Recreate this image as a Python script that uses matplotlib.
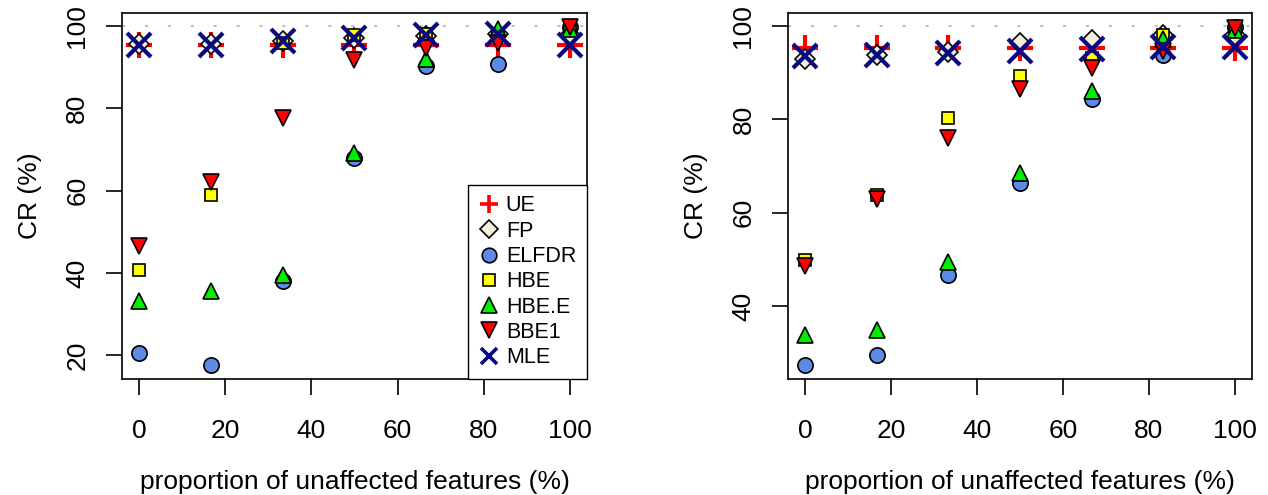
import numpy as np
import matplotlib.pyplot as plt
from matplotlib.lines import Line2D

plt.rcParams['font.family'] = ['Liberation Sans', 'DejaVu Sans']

###### DATA ######

# proportion of unaffected features (%)
x = [0, 16.67, 33.33, 50, 66.67, 83.33, 100]

methods = ["UE", "FP", "ELFDR", "HBE", "HBE.E", "BBE1", "MLE"]

# coverage rate (%), left panel
left_UE = [95.4, 95.4, 95.4, 95.4, 95.4, 95.4, 95.4]
left_FP = [95.6, 95.6, 96.3, 97.2, 97.5, 98.2, 97.8]
left_ELFDR = [20.6, 17.5, 38.0, 68.0, 90.3, 90.9, 99.9]
left_HBE = [40.6, 58.9, 95.8, 97.8, 98.2, 98.0, 99.8]
left_HBE_E = [33.2, 35.6, 39.4, 69.1, 91.9, 99.4, 99.2]
left_BBE1 = [46.5, 62.2, 77.7, 91.7, 94.7, 96.0, 99.7]
left_MLE = [95.5, 95.5, 96.4, 97.2, 97.8, 98.2, 95.3]

# coverage rate (%), right panel
right_UE = [95.4, 95.4, 95.4, 95.4, 95.4, 95.4, 95.4]
right_FP = [92.9, 93.8, 94.4, 96.4, 97.0, 98.0, 98.1]
right_ELFDR = [27.3, 29.5, 46.6, 66.4, 84.3, 93.9, 99.9]
right_HBE = [49.8, 63.9, 80.4, 89.3, 93.2, 98.2, 99.8]
right_HBE_E = [33.9, 35.0, 49.4, 68.6, 86.1, 97.3, 99.2]
right_BBE1 = [48.6, 63.0, 76.1, 86.6, 91.1, 94.6, 99.6]
right_MLE = [93.6, 93.9, 94.3, 94.6, 95.1, 95.6, 95.6]

left_yticks = [20, 40, 60, 80, 100]
right_yticks = [40, 60, 80, 100]
xticks = [0, 20, 40, 60, 80, 100]

###### STYLES ######

styles = {
    "UE":    dict(marker='+', ms=19, mew=3.0, color='#FF0000'),
    "FP":    dict(marker='D', ms=10, mew=1.2, mfc='#F2F0DA', mec='black'),
    "ELFDR": dict(marker='o', ms=11, mew=1.2, mfc='#5C8AE6', mec='black'),
    "HBE":   dict(marker='s', ms=8.5, mew=1.2, mfc='#FFFF00', mec='black'),
    "HBE.E": dict(marker='^', ms=11, mew=1.2, mfc='#00EE00', mec='black'),
    "BBE1":  dict(marker='v', ms=11, mew=1.2, mfc='#FF0000', mec='black'),
    "MLE":   dict(marker='x', ms=17, mew=3.0, color='#0A0A80'),
}

# legend symbols are drawn a bit smaller for the + and x
legend_ms = {"UE": 13, "FP": 9, "ELFDR": 10.5, "HBE": 8, "HBE.E": 11, "BBE1": 11, "MLE": 11}


def r_range(values):
    # pad the data range by 4% on each side
    lo, hi = min(values), max(values)
    d = 0.04 * (hi - lo)
    return lo - d, hi + d


def make_legend(ax):
    handles = []
    for name in methods:
        st = dict(styles[name])
        st['ms'] = legend_ms[name]
        if name in ("UE", "MLE"):
            st['mew'] = 2.6
        handles.append(Line2D([], [], linestyle='none', **st))
    leg = ax.legend(handles, methods, loc='lower right', fontsize=15.5, frameon=True,
                    fancybox=False, borderaxespad=0, handlelength=0.9,
                    handletextpad=0.35, labelspacing=0.2, borderpad=0.5,
                    numpoints=1)
    leg.get_frame().set_edgecolor('black')
    leg.get_frame().set_linewidth(1.0)
    leg.get_frame().set_alpha(1.0)
    leg.set_zorder(20)


def panel(ax, series, yticks, legend=False):
    allvals = []
    for i, (name, vals) in enumerate(zip(methods, series)):
        ax.plot(x, vals, linestyle='none', label=name, zorder=3 + i, **styles[name])
        allvals += vals
    ax.axhline(100, color='#C0C0C0', lw=1.5, dashes=(1.5, 9.5), zorder=1)

    ax.set_xlim(r_range(x))
    ax.set_ylim(r_range(allvals))
    ax.set_xticks(xticks)
    ax.set_yticks(yticks)
    ax.tick_params(length=11.5, width=1.2, labelsize=19, pad=12)
    ax.tick_params(axis='x', pad=17)
    for lab in ax.get_yticklabels():
        lab.set_rotation(90)
        lab.set_va('center')
    for s in ax.spines.values():
        s.set_linewidth(1.2)

    ax.set_xlabel("proportion of unaffected features (%)", fontsize=19, labelpad=20)
    ax.set_ylabel("CR (%)", fontsize=19, labelpad=17)

    if legend:
        make_legend(ax)


fig = plt.figure(figsize=(12.68, 4.95), dpi=100)
ax1 = fig.add_axes([0.0962, 0.2343, 0.3667, 0.7394])
ax2 = fig.add_axes([0.6215, 0.2343, 0.3659, 0.7394])

panel(ax1, [left_UE, left_FP, left_ELFDR, left_HBE, left_HBE_E, left_BBE1, left_MLE],
      left_yticks, legend=True)
panel(ax2, [right_UE, right_FP, right_ELFDR, right_HBE, right_HBE_E, right_BBE1, right_MLE],
      right_yticks)

plt.savefig("out.png", dpi=100)
